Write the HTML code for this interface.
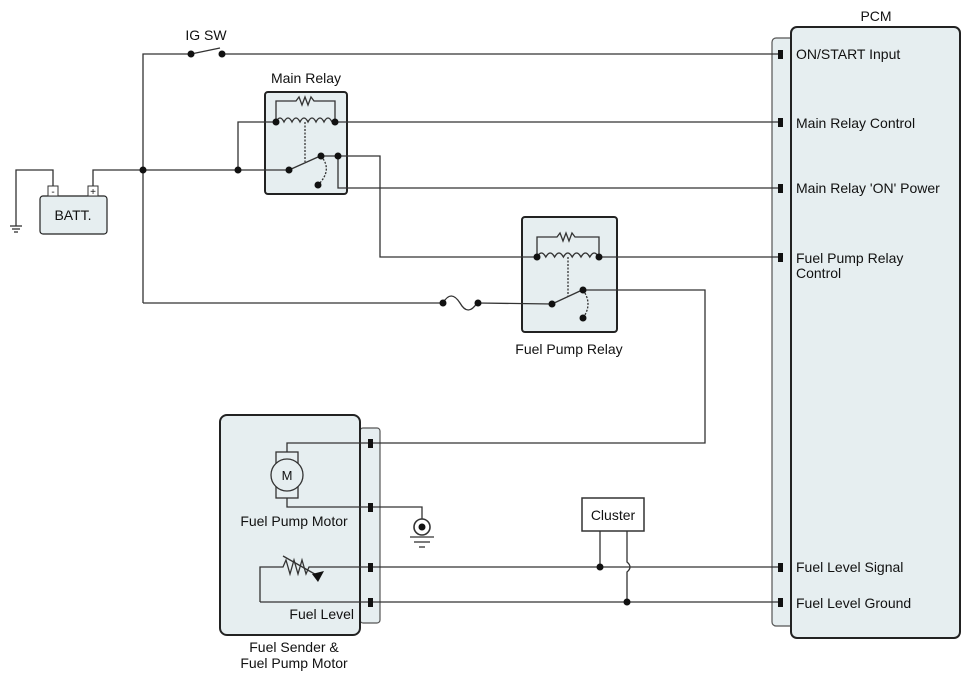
<!DOCTYPE html>
<html><head><meta charset="utf-8"><style>
html,body{margin:0;padding:0;background:#fff}
svg{display:block}
text{font-family:"Liberation Sans",sans-serif;font-size:14px;fill:#111}
</style></head><body>
<svg width="971" height="682" viewBox="0 0 971 682" xmlns="http://www.w3.org/2000/svg">
<g fill="#e6eef0" stroke="#222" stroke-width="2">
<rect x="772" y="38" width="30" height="588" rx="4" stroke-width="1.2" stroke="#555"/>
<rect x="791" y="27" width="169" height="611" rx="6"/>
<rect x="360" y="428" width="20" height="195" rx="3" stroke-width="1.2" stroke="#555"/>
<rect x="220" y="415" width="140" height="220" rx="7"/>
<rect x="265" y="92" width="82" height="102" rx="3"/>
<rect x="522" y="217" width="95" height="115" rx="3"/>
<rect x="40" y="196" width="67" height="38" rx="3" stroke-width="1.2"/>
</g>
<g fill="none" stroke="#333" stroke-width="1.3">
<!-- IG SW -->
<polyline points="143,303 143,54 191,54"/>
<line x1="191" y1="54" x2="220" y2="48"/>
<line x1="222" y1="54" x2="780" y2="54"/>
<!-- battery -->
<polyline points="16,226 16,170 53,170 53,188"/>
<line x1="10" y1="226" x2="22" y2="226"/><line x1="12" y1="229" x2="20" y2="229"/><line x1="14" y1="232" x2="18" y2="232"/>
<polyline points="93,188 93,170 289,170"/>
<polyline points="238,170 238,122 276,122"/>
<!-- main relay -->
<polyline points="276,122 276,101 296,101 299,97 302,105 305,97 308,105 311,97 314,101 335,101 335,122"/>
<path d="M276,122 q4,-8 8,0 q4,-8 8,0 q4,-8 8,0 q4,-8 8,0 q4,-8 8,0 q4,-8 8,0 q4,-8 8,0"/>
<line x1="335" y1="122" x2="780" y2="122"/>
<line x1="305" y1="122" x2="305" y2="162" stroke-dasharray="2,1.5"/>
<line x1="289" y1="170" x2="318" y2="157"/>
<path d="M321,156 q12,14 -3,29" stroke-dasharray="2,1.5"/>
<line x1="321" y1="156" x2="338" y2="156"/>
<polyline points="338,156 380,156 380,257 537,257"/>
<polyline points="338,156 338,188 780,188"/>
<!-- fp relay -->
<polyline points="537,257 537,237 557,237 560,233 563,241 566,233 569,241 572,233 575,237 599,237 599,257"/>
<path d="M537,257 q4.4,-8 8.8,0 q4.4,-8 8.8,0 q4.4,-8 8.8,0 q4.4,-8 8.8,0 q4.4,-8 8.8,0 q4.4,-8 8.8,0 q4.4,-8 8.8,0"/>
<line x1="599" y1="257" x2="780" y2="257"/>
<line x1="568" y1="257" x2="568" y2="297" stroke-dasharray="2,1.5"/>
<line x1="552" y1="304" x2="580" y2="291"/>
<path d="M583,290 q10,14 0,28" stroke-dasharray="2,1.5"/>
<polyline points="143,303 443,303"/>
<path d="M443,303 q8,-14 17,0 q8,14 17,0"/>
<line x1="478" y1="303" x2="552" y2="304"/>
<polyline points="583,290 705,290 705,443 371,443"/>
<!-- motor -->
<polyline points="371,443 287,443 287,452"/>
<rect x="276" y="452" width="22" height="46" fill="#e6eef0"/>
<circle cx="287" cy="475" r="16" fill="#e6eef0"/>
<polyline points="287,498 287,507 371,507"/>
<polyline points="371,507 422,507 422,519"/>
<circle cx="422" cy="527" r="8" stroke-width="1.6"/>
<line x1="410" y1="537" x2="434" y2="537"/><line x1="414" y1="542" x2="430" y2="542"/><line x1="419" y1="547" x2="425" y2="547"/>
<!-- fuel level -->
<polyline points="260,602 260,567 283,567 286,560 290,574 294,560 298,574 302,560 306,574 309,567 371,567"/>
<line x1="283" y1="556" x2="320" y2="577"/>
<polyline points="260,602 371,602"/>
<line x1="371" y1="567" x2="780" y2="567"/>
<line x1="371" y1="602" x2="780" y2="602"/>
<!-- cluster -->
<rect x="582" y="498" width="62" height="33" stroke-width="1.5" fill="#fff"/>
<line x1="600" y1="531" x2="600" y2="567"/>
<path d="M627,531 L627,562 q6,5 0,10 L627,602"/>
</g>
<path d="M318,582 L324,571 L312,574 Z" fill="#111"/>
<text x="287" y="480" text-anchor="middle" style="font-size:13px">M</text>
<g fill="#111">
<circle cx="191" cy="54" r="3.5"/><circle cx="222" cy="54" r="3.5"/>
<circle cx="143" cy="170" r="3.5"/><circle cx="238" cy="170" r="3.5"/><circle cx="289" cy="170" r="3.5"/>
<circle cx="276" cy="122" r="3.5"/><circle cx="335" cy="122" r="3.5"/>
<circle cx="321" cy="156" r="3.5"/><circle cx="338" cy="156" r="3.5"/><circle cx="318" cy="185" r="3.5"/>
<circle cx="537" cy="257" r="3.5"/><circle cx="599" cy="257" r="3.5"/>
<circle cx="552" cy="304" r="3.5"/><circle cx="583" cy="290" r="3.5"/><circle cx="583" cy="318" r="3.5"/>
<circle cx="443" cy="303" r="3.5"/><circle cx="478" cy="303" r="3.5"/>
<circle cx="600" cy="567" r="3.5"/><circle cx="627" cy="602" r="3.5"/>
<circle cx="422" cy="527" r="3.5"/>
<rect x="778" y="50" width="5" height="9"/><rect x="778" y="118" width="5" height="9"/>
<rect x="778" y="184" width="5" height="9"/><rect x="778" y="253" width="5" height="9"/>
<rect x="778" y="563" width="5" height="9"/><rect x="778" y="598" width="5" height="9"/>
<rect x="368" y="439" width="5" height="9"/><rect x="368" y="503" width="5" height="9"/>
<rect x="368" y="563" width="5" height="9"/><rect x="368" y="598" width="5" height="9"/>
</g>
<rect x="48" y="186" width="10" height="10" fill="#fff" stroke="#333"/>
<rect x="88" y="186" width="10" height="10" fill="#fff" stroke="#333"/>
<text x="53" y="195" text-anchor="middle" style="font-size:10px">-</text>
<text x="93" y="195" text-anchor="middle" style="font-size:10px">+</text>
<text x="73" y="220" text-anchor="middle">BATT.</text>
<text x="206" y="40" text-anchor="middle">IG SW</text>
<text x="306" y="83" text-anchor="middle">Main Relay</text>
<text x="569" y="354" text-anchor="middle">Fuel Pump Relay</text>
<text x="876" y="21" text-anchor="middle">PCM</text>
<text x="796" y="59">ON/START Input</text>
<text x="796" y="128">Main Relay Control</text>
<text x="796" y="193">Main Relay 'ON' Power</text>
<text x="796" y="263">Fuel Pump Relay</text>
<text x="796" y="278">Control</text>
<text x="796" y="572">Fuel Level Signal</text>
<text x="796" y="608">Fuel Level Ground</text>
<text x="613" y="520" text-anchor="middle">Cluster</text>
<text x="294" y="526" text-anchor="middle">Fuel Pump Motor</text>
<text x="354" y="619" text-anchor="end">Fuel Level</text>
<text x="294" y="652" text-anchor="middle">Fuel Sender &amp;</text>
<text x="294" y="668" text-anchor="middle">Fuel Pump Motor</text>
</svg>
</body></html>
